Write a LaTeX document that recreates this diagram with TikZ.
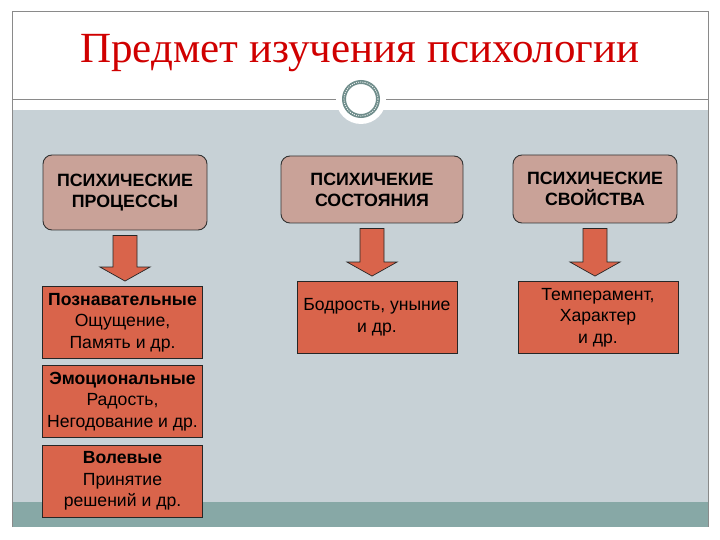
\documentclass[tikz,border=0pt]{standalone}
\usepackage{fontspec}
\setmainfont{Liberation Serif}
\setsansfont{Liberation Sans}
\usetikzlibrary{calc}
\definecolor{psyred}{HTML}{D00000}
\definecolor{psyrose}{HTML}{C9A298}
\definecolor{psycoral}{HTML}{D9644B}
\definecolor{psygray}{HTML}{C7D1D6}
\definecolor{psyteal}{HTML}{87A8A6}
\definecolor{psyline}{HTML}{8A8A8A}
\definecolor{psyring}{HTML}{6F8D8B}

\begin{document}
\begin{tikzpicture}[x=1pt,y=-1pt,
    headbox/.style={draw=black!80,fill=psyrose,rounded corners=9pt,line width=0.9pt,align=center,
      font=\sffamily\bfseries\fontsize{17.8}{21}\selectfont,inner sep=0pt},
    itembox/.style={draw=black!85,fill=psycoral,line width=0.9pt,align=center,
      font=\sffamily\fontsize{17.6}{21.5}\selectfont,inner sep=0pt,minimum width=160,minimum height=72},
    blockarrow/.style={draw=black!85,fill=psycoral,line width=0.7pt,line join=miter}]
    \useasboundingbox (0,0) rectangle (720,540);
    \fill[white] (0,0) rectangle (720,540);
    \fill[psygray] (12,110) rectangle (708,502);
    \fill[psyteal] (12,502) rectangle (708,527);
    \draw[psyline,line width=1pt] (12,527) -- (12,12) -- (708,12) -- (708,527);
    \draw[psyline,line width=1pt] (12,100) -- (708,100);
    \fill[white] (361,99) circle (25);
    \draw[psyring,line width=4pt] (361,99) circle (17);
    \draw[white,line width=0.8pt,dash pattern=on 1pt off 1.2pt] (361,99) circle (17);
    \node[text=psyred,font=\fontsize{43}{50}\selectfont,anchor=base] (title) at (360,63) {Предмет изучения психологии};
    \node[headbox,minimum width=164,minimum height=75] (proc) at (125,192.5) {ПСИХИЧЕСКИЕ\\ПРОЦЕССЫ};
    \node[headbox,minimum width=182,minimum height=67] (state) at (372,189.5) {ПСИХИЧЕКИЕ\\СОСТОЯНИЯ};
    \node[headbox,minimum width=164,minimum height=68] (trait) at (595,189) {ПСИХИЧЕСКИЕ\\СВОЙСТВА};
    \node[itembox] (cogn) at (122.5,322.5) {\textbf{Познавательные}\\Ощущение,\\Память и др.};
    \node[itembox] (emot) at (122.5,401.5) {\textbf{Эмоциональные}\\Радость,\\Негодование и др.};
    \node[itembox] (will) at (122.5,481) {\textbf{Волевые}\\Принятие\\решений и др.};
    \node[itembox] (mood) at (377,317.5) {Бодрость, уныние\\и др.};
    \node[itembox] (temper) at (598,317.5) {Темперамент,\\Характер\\и др.};
    \foreach \t/\b in {proc/cogn,state/mood,trait/temper}
        \draw[blockarrow] let \p1=(\t.south), \p2=(\b.north) in
            (\x1-12pt,\y1-5pt) -- (\x1+12pt,\y1-5pt) -- (\x1+12pt,\y2+19pt) -- (\x1+25pt,\y2+19pt)
            -- (\x1,\y2+5pt) -- (\x1-25pt,\y2+19pt) -- (\x1-12pt,\y2+19pt) -- cycle;
\end{tikzpicture}
\end{document}
